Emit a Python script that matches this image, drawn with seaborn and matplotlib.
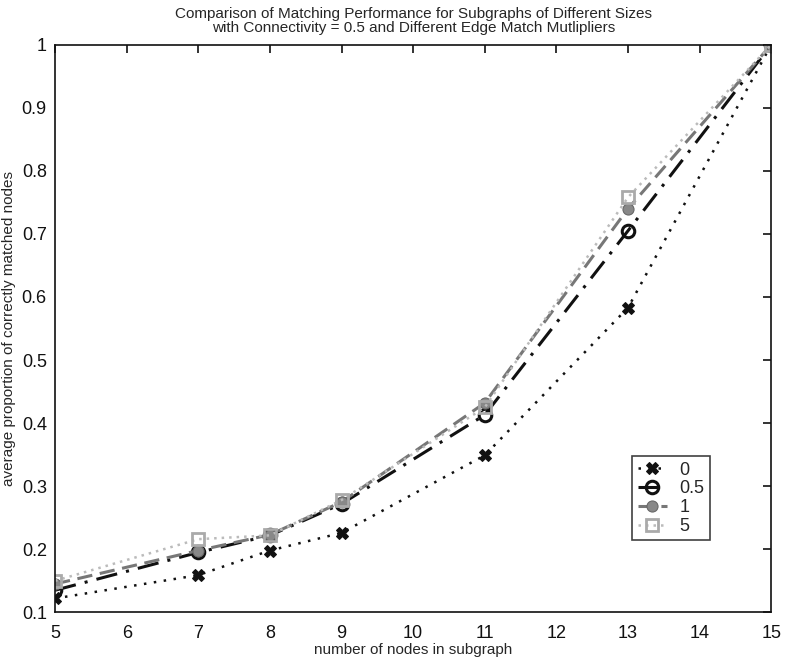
import numpy as np
import pandas as pd
import matplotlib
matplotlib.use("Agg")
import matplotlib.pyplot as plt
import seaborn as sns

nodes = [5, 7, 8, 9, 11, 13, 15]
mult_0 = [0.122, 0.159, 0.198, 0.226, 0.349, 0.583, 1.0]
mult_05 = [0.135, 0.195, 0.222, 0.272, 0.413, 0.705, 1.0]
mult_1 = [0.145, 0.198, 0.223, 0.275, 0.432, 0.740, 1.0]
mult_5 = [0.150, 0.216, 0.222, 0.278, 0.425, 0.758, 1.0]
labels = ["0", "0.5", "1", "5"]
xticks = list(range(5, 16))
yticks = [0.1, 0.2, 0.3, 0.4, 0.5, 0.6, 0.7, 0.8, 0.9, 1.0]

sns.set_style("white")
plt.rcParams['font.family'] = ['Liberation Sans', 'DejaVu Sans']

fig = plt.figure(figsize=(7.87, 6.57), dpi=100)
ax = fig.add_axes([0.070, 0.068, 0.910, 0.864])

series = [mult_0, mult_05, mult_1, mult_5]
styles = [
    dict(color="#111111", linestyle=(0, (1, 3)), marker="X", markersize=8, mfc="#111111", mec="#111111", lw=1.8),
    dict(color="#111111", linestyle=(0, (7, 3, 1, 3)), marker="o", markersize=9, mfc="none", mec="#111111", mew=2.2, lw=2.2),
    dict(color="#777777", linestyle=(0, (5, 2.5)), marker="o", markersize=8, mfc="#888888", mec="#666666", lw=2.2),
    dict(color="#bbbbbb", linestyle=(0, (1, 2)), marker="s", markersize=8, mfc="none", mec="#aaaaaa", mew=2, lw=1.8),
]
for vals, lab, st in zip(series, labels, styles):
    df = pd.DataFrame({"nodes": nodes, "prop": vals})
    sns.lineplot(data=df, x="nodes", y="prop", ax=ax, label=lab, **st)

ax.set_xlim(5, 15)
ax.set_ylim(0.1, 1.0)
ax.set_xticks(xticks)
ax.set_yticks(yticks)
ax.set_yticklabels(["0.1", "0.2", "0.3", "0.4", "0.5", "0.6", "0.7", "0.8", "0.9", "1"])
ax.tick_params(direction="in", length=6, width=1.2, top=True, right=True, labelsize=13, colors="#111111")
ax.tick_params(axis="x", pad=9)
ax.tick_params(axis="y", pad=6)
for sp in ax.spines.values():
    sp.set_visible(True)
    sp.set_color("#111111")
    sp.set_linewidth(1.2)

ax.set_xlabel("number of nodes in subgraph", fontsize=11, labelpad=1)
ax.set_ylabel("average proportion of correctly matched nodes", fontsize=11, labelpad=4)
ax.set_title("Comparison of Matching Performance for Subgraphs of Different Sizes\nwith Connectivity = 0.5 and Different Edge Match Mutlipliers",
             fontsize=11, pad=9, linespacing=1.0)

leg = ax.legend(loc="upper left", bbox_to_anchor=(0.806, 0.275), fontsize=13, frameon=True,
                fancybox=False, edgecolor="#111111", handlelength=1.6, borderpad=0.3,
                labelspacing=0.1, handletextpad=0.7, borderaxespad=0)
leg.get_frame().set_linewidth(1.2)

fig.savefig("out.png", dpi=100)
